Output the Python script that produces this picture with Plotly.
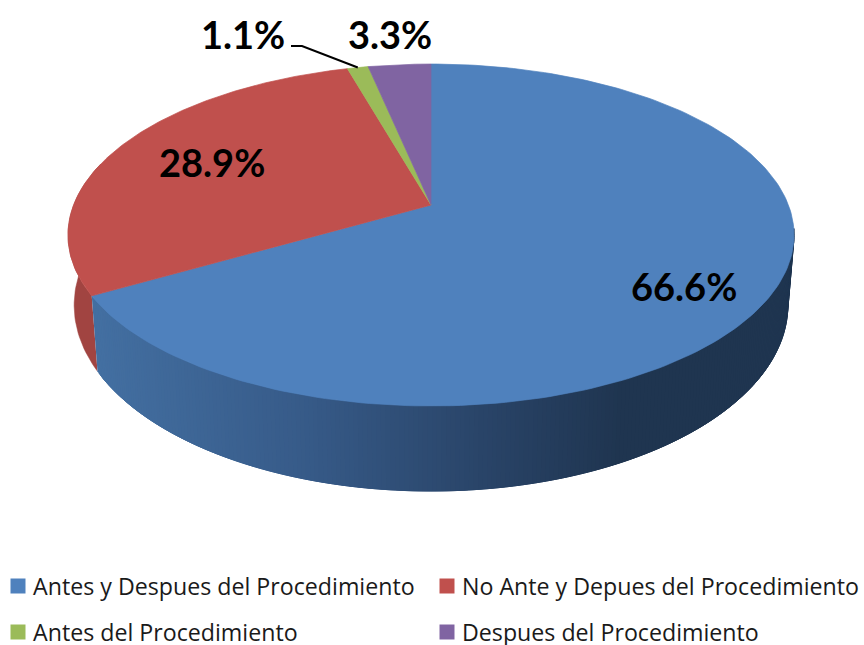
import numpy as np
import plotly.graph_objects as go

# ---- data ----
categories = ["Antes y Despues del Procedimiento", "No Ante y Depues del Procedimiento",
              "Antes del Procedimiento", "Despues del Procedimiento"]
values = [66.6, 28.9, 1.1, 3.3]
labels = ["66.6%", "28.9%", "1.1%", "3.3%"]

# ---- style ----
top_colors = ["#4F81BD", "#C0504D", "#9BBB59", "#8064A2"]
W, H = 864, 645
CX, CY = 431, 205      # projected pie centre
A, B, K = 357.4, 165.7, 0.1755   # perspective disc
SX, SY, Y0 = 0.983, 1.087, 272.6  # lower rim
side_stops_x = [100, 300, 500, 620]
side_stops_rgb = [(67, 111, 161), (55, 91, 137), (40, 66, 101), (31, 53, 80)]
red_side = "#A14441"
FONT_L = "Lato"
FONT_T = "Open Sans"


def rim(phi):
    s = -np.cos(phi)
    d = 1 - K * s
    return A * np.sin(phi) / d, B * s / d


def top(phi):
    x, y = rim(phi)
    return CX + x, CY + y


def bottom(phi):
    x, y = rim(phi)
    return CX + SX * x, Y0 + SY * y


def side_color(x):
    c = [np.interp(x, side_stops_x, [s[i] for s in side_stops_rgb]) for i in range(3)]
    return "rgb(%d,%d,%d)" % tuple(int(round(v)) for v in c)


edges = np.radians(np.concatenate([[0], np.cumsum(values)]) / sum(values) * 360)
fig = go.Figure()


def poly(xs, ys, color, line=1.0):
    fig.add_trace(go.Scatter(x=xs, y=ys, mode="lines", fill="toself", fillcolor=color,
                             line=dict(color=color, width=line), hoverinfo="skip", showlegend=False))


# side wall: red (slice 2) behind, then blue strips with horizontal gradient
ph = np.linspace(edges[1], np.radians(285), 40)
tx, ty = top(ph)
bx, by = bottom(ph)
poly(np.r_[tx, bx[::-1]], np.r_[ty, by[::-1]], red_side, line=0.5)

# painted from the far right end to the left, each strip overlapping the next so no seams show
ph = np.linspace(edges[1], np.radians(98), 230)
for i in range(len(ph) - 1):
    seg = ph[i:i + 5]
    tx, ty = top(seg)
    bx, by = bottom(seg)
    poly(np.r_[tx, bx[::-1]], np.r_[ty, by[::-1]], side_color((tx[:2].mean() + bx[:2].mean()) / 2), line=0.5)

# top face
for i in range(len(values)):
    ph = np.linspace(edges[i], edges[i + 1], 200)
    tx, ty = top(ph)
    poly(np.r_[CX, tx, CX], np.r_[CY, ty, CY], top_colors[i], line=0.7)

# leader line for the small slice
lead = top((edges[2] + edges[3]) / 2)
fig.add_trace(go.Scatter(x=[291, 302, lead[0]], y=[46, 46, lead[1]], mode="lines",
                         line=dict(color="black", width=2), hoverinfo="skip", showlegend=False))

# legend, 2x2, built on the same axes
legend_pos = [(18, 586), (447, 586), (18, 632), (447, 632)]
for name, color, (x, y) in zip(categories, top_colors, legend_pos):
    fig.add_trace(go.Scatter(x=[x], y=[y], mode="markers", showlegend=False, hoverinfo="skip",
                             marker=dict(symbol="square", size=15, color=color)))
    fig.add_annotation(x=x + 13, y=y, text=name, showarrow=False, xanchor="left",
                       font=dict(family=FONT_T, size=23.2, color="#1a1a1a"))

label_pos = [(684, 286), (212, 162), (243, 34), (390, 34)]
for t, (x, y) in zip(labels, label_pos):
    fig.add_annotation(x=x, y=y, text="<b>%s</b>" % t, showarrow=False,
                       font=dict(family=FONT_L, size=38, color="black"))

fig.update_layout(
    width=W, height=H, margin=dict(l=0, r=0, t=0, b=0), autosize=False,
    paper_bgcolor="white", plot_bgcolor="white",
    xaxis=dict(range=[0, W], visible=False, fixedrange=True),
    yaxis=dict(range=[H, 0], visible=False, fixedrange=True),
    showlegend=False,
)
fig.write_html("out.html", config={"displayModeBar": False},
               post_script="document.body.style.margin='0';document.documentElement.style.overflow='hidden';")
